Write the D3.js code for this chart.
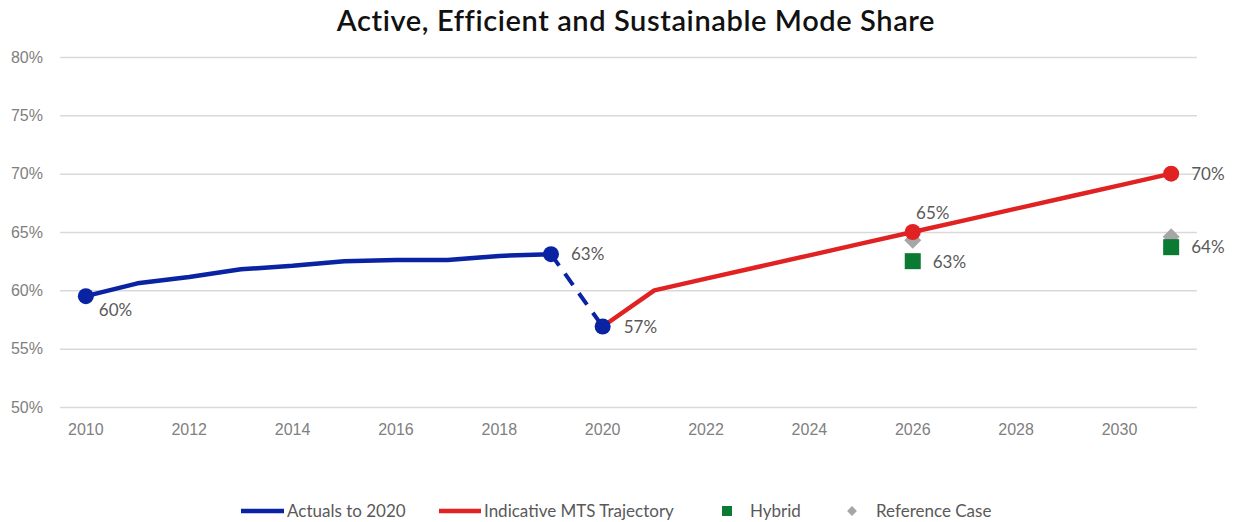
<!DOCTYPE html>
<html>
<head>
<meta charset="utf-8">
<script src="https://cdn.jsdelivr.net/npm/d3@7"></script>
<style>
  body { margin: 0; background: #fff; }
  svg { display: block; font-family: Lato, "Open Sans", sans-serif; }
</style>
</head>
<body>
<svg id="chart" width="1237" height="522"></svg>
<script>
// Years along the category axis
const years = d3.range(2010, 2032);
const xTickYears = [2010, 2012, 2014, 2016, 2018, 2020, 2022, 2024, 2026, 2028, 2030];
const yTicks = [0.50, 0.55, 0.60, 0.65, 0.70, 0.75, 0.80];

// Actual mode share, 2010–2019 (solid) and the 2019→2020 drop (dashed)
const actualYears = [2010, 2011, 2012, 2013, 2014, 2015, 2016, 2017, 2018, 2019];
const actualValues = [0.595, 0.606, 0.6115, 0.618, 0.621, 0.625, 0.626, 0.626, 0.6295, 0.631];
const dropYears = [2019, 2020];
const dropValues = [0.631, 0.569];

// Indicative MTS trajectory
const mtsYears = [2020, 2021, 2022, 2023, 2024, 2025, 2026, 2027, 2028, 2029, 2030, 2031];
const mtsValues = [0.569, 0.60, 0.61, 0.62, 0.63, 0.64, 0.65, 0.66, 0.67, 0.68, 0.69, 0.70];

// Scenario points
const hybridYears = [2026, 2031];
const hybridValues = [0.625, 0.637];
const referenceYears = [2026, 2031];
const referenceValues = [0.643, 0.646];

const svg = d3.select("#chart");
const plotLeft = 60, plotRight = 1197, plotTop = 57, plotBottom = 407;

const x = d3.scaleBand().domain(years).range([plotLeft, plotRight]);
const xc = yr => x(yr) + x.bandwidth() / 2;
const y = d3.scaleLinear().domain([0.50, 0.80]).range([plotBottom, plotTop]);

const BLUE = "#0a23a3", RED = "#e02222", GREEN = "#0b7a32", GREY = "#a6a6a6";
const pct = d3.format(".0%");

// Title
svg.append("text")
  .attr("x", 636).attr("y", 31)
  .attr("text-anchor", "middle")
  .attr("font-size", 29).attr("font-weight", 600)
  .attr("letter-spacing", 0.6)
  .attr("fill", "#111")
  .text("Active, Efficient and Sustainable Mode Share");

// Horizontal gridlines + y labels
const yAxis = d3.axisLeft(y).tickValues(yTicks).tickFormat(pct)
  .tickSize(-(plotRight - plotLeft)).tickPadding(17);
const gy = svg.append("g").attr("transform", `translate(${plotLeft},0)`).call(yAxis);
gy.select(".domain").remove();
gy.selectAll(".tick line").attr("stroke", "#d9d9d9").attr("stroke-width", 1.5);
gy.selectAll(".tick text").attr("fill", "#808080").attr("font-size", 16);

// x labels
const xAxis = d3.axisBottom(x).tickValues(xTickYears).tickSize(0).tickPadding(17);
const gx = svg.append("g").attr("transform", `translate(0,${plotBottom})`).call(xAxis);
gx.select(".domain").remove();
gx.selectAll(".tick text").attr("fill", "#808080").attr("font-size", 16);

const line = d3.line().x(d => xc(d[0])).y(d => y(d[1]));

// MTS trajectory
svg.append("path")
  .datum(d3.zip(mtsYears, mtsValues))
  .attr("d", line).attr("fill", "none")
  .attr("stroke", RED).attr("stroke-width", 4.5).attr("stroke-linejoin", "round");

// Actuals
svg.append("path")
  .datum(d3.zip(actualYears, actualValues))
  .attr("d", line).attr("fill", "none")
  .attr("stroke", BLUE).attr("stroke-width", 4.5).attr("stroke-linejoin", "round");
svg.append("path")
  .datum(d3.zip(dropYears, dropValues))
  .attr("d", line).attr("fill", "none")
  .attr("stroke", BLUE).attr("stroke-width", 4).attr("stroke-dasharray", "14,10");

// Reference case diamonds
svg.selectAll(".ref").data(d3.zip(referenceYears, referenceValues)).join("path")
  .attr("transform", d => `translate(${xc(d[0])},${y(d[1])}) rotate(45)`)
  .attr("d", "M-6,-6H6V6H-6Z").attr("fill", GREY);

// Hybrid squares
svg.selectAll(".hyb").data(d3.zip(hybridYears, hybridValues)).join("rect")
  .attr("x", d => xc(d[0]) - 8).attr("y", d => y(d[1]) - 8)
  .attr("width", 16).attr("height", 16).attr("fill", GREEN);

// Highlighted points
const blueDots = [[2010, actualValues[0]], [2019, actualValues[9]], [2020, dropValues[1]]];
svg.selectAll(".bdot").data(blueDots).join("circle")
  .attr("cx", d => xc(d[0])).attr("cy", d => y(d[1])).attr("r", 8).attr("fill", BLUE);
const redDots = [[2026, mtsValues[6]], [2031, mtsValues[11]]];
svg.selectAll(".rdot").data(redDots).join("circle")
  .attr("cx", d => xc(d[0])).attr("cy", d => y(d[1])).attr("r", 8).attr("fill", RED);

// Value labels
const labels = [
  { yr: 2010, v: actualValues[0], dx: 13, dy: 20 },
  { yr: 2019, v: actualValues[9], dx: 20, dy: 6 },
  { yr: 2020, v: dropValues[1], dx: 21, dy: 6 },
  { yr: 2026, v: mtsValues[6], dx: 20, dy: -13, anchor: "middle" },
  { yr: 2026, v: hybridValues[0], dx: 20, dy: 7 },
  { yr: 2031, v: mtsValues[11], dx: 20, dy: 6 },
  { yr: 2031, v: hybridValues[1], dx: 20, dy: 6 }
];
svg.selectAll(".lbl").data(labels).join("text")
  .attr("x", d => xc(d.yr) + d.dx).attr("y", d => y(d.v) + d.dy)
  .attr("text-anchor", d => d.anchor || "start")
  .attr("font-size", 17).attr("fill", "#595959")
  .text(d => pct(d.v));

// Legend
const lg = svg.append("g").attr("font-size", 17).attr("fill", "#595959");
const ly = 511;
lg.append("line").attr("x1", 241).attr("x2", 284).attr("y1", ly).attr("y2", ly)
  .attr("stroke", BLUE).attr("stroke-width", 4.5);
lg.append("text").attr("x", 287).attr("y", ly + 6).text("Actuals to 2020");
lg.append("line").attr("x1", 439).attr("x2", 481).attr("y1", ly).attr("y2", ly)
  .attr("stroke", RED).attr("stroke-width", 4.5);
lg.append("text").attr("x", 484).attr("y", ly + 6).text("Indicative MTS Trajectory");
lg.append("rect").attr("x", 722).attr("y", ly - 5).attr("width", 10).attr("height", 10).attr("fill", GREEN);
lg.append("text").attr("x", 750).attr("y", ly + 6).text("Hybrid");
lg.append("path").attr("transform", `translate(852,${ly}) rotate(45)`)
  .attr("d", "M-3.5,-3.5H3.5V3.5H-3.5Z").attr("fill", GREY);
lg.append("text").attr("x", 876).attr("y", ly + 6).text("Reference Case");
</script>
</body>
</html>
